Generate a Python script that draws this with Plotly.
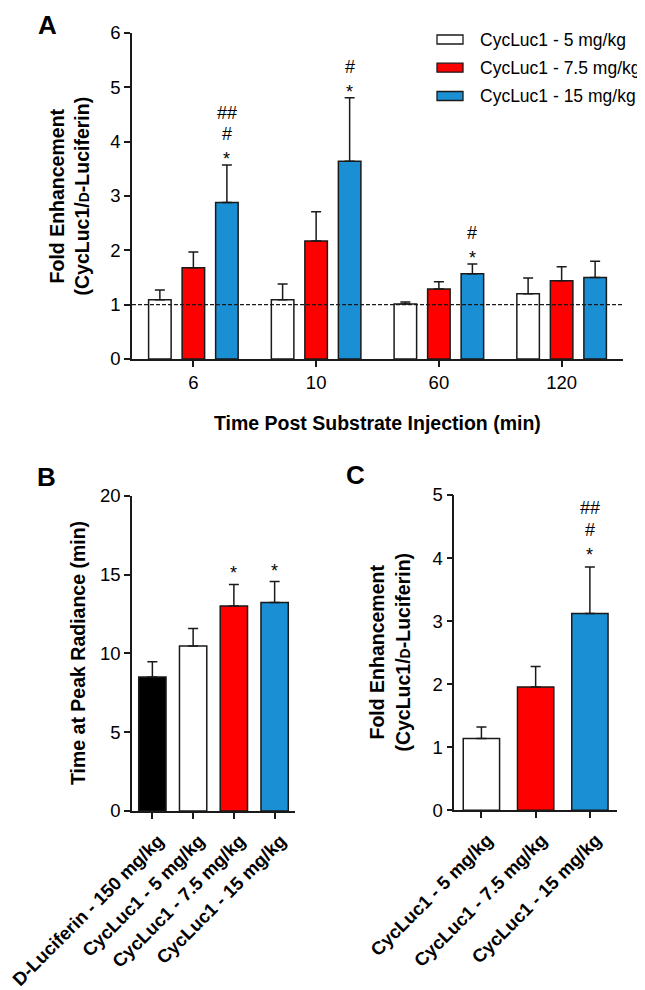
import plotly.graph_objects as go

W, H = 645, 990
OFF = 8  # page body margin offset in the screenshot
FONT = "Arial, Liberation Sans, Helvetica, sans-serif"

# ---------------- data ----------------
# Panel A
times = ["6", "10", "60", "120"]
series_names = ["CycLuc1 - 5 mg/kg", "CycLuc1 - 7.5 mg/kg", "CycLuc1 - 15 mg/kg"]
a_5_mean = [1.09, 1.09, 1.01, 1.20]
a_5_sem = [0.18, 0.29, 0.04, 0.29]
a_75_mean = [1.68, 2.17, 1.29, 1.44]
a_75_sem = [0.29, 0.54, 0.13, 0.26]
a_15_mean = [2.88, 3.64, 1.57, 1.50]
a_15_sem = [0.69, 1.17, 0.18, 0.30]
a_15_sig = [["*", "#", "##"], ["*", "#"], ["*", "#"], []]
a_reference = 1.0

# Panel B
b_groups = ["D-Luciferin - 150 mg/kg", "CycLuc1 - 5 mg/kg",
            "CycLuc1 - 7.5 mg/kg", "CycLuc1 - 15 mg/kg"]
b_mean = [8.5, 10.46, 13.0, 13.23]
b_sem = [0.97, 1.12, 1.37, 1.32]
b_sig = [[], [], ["*"], ["*"]]

# Panel C
c_groups = ["CycLuc1 - 5 mg/kg", "CycLuc1 - 7.5 mg/kg", "CycLuc1 - 15 mg/kg"]
c_mean = [1.14, 1.955, 3.12]
c_sem = [0.18, 0.325, 0.74]
c_sig = [[], [], ["*", "#", "##"]]

# ---------------- styles ----------------
WHITE, RED, BLUE, BLACK = "#FFFFFF", "#FF0000", "#1A8FD3", "#000000"
LINE = "#1a1a1a"
series_colors = [WHITE, RED, BLUE]
b_colors = [BLACK, WHITE, RED, BLUE]
c_colors = [WHITE, RED, BLUE]
BARGAP, BARGROUPGAP = 0.181, 0.328


def px(xp):
    return (xp - OFF) / W


def py(yp):
    return 1 - (yp - OFF) / H


def err(sem):
    return dict(type="data", array=sem, arrayminus=[0] * len(sem), symmetric=False,
                color=LINE, thickness=1.5, width=5)


fig = go.Figure()

# Panel A bars
for name, mean, sem, col in zip(series_names,
                                [a_5_mean, a_75_mean, a_15_mean],
                                [a_5_sem, a_75_sem, a_15_sem],
                                series_colors):
    fig.add_trace(go.Bar(x=times, y=mean, name=name, error_y=err(sem),
                         marker=dict(color=col, line=dict(color=LINE, width=1.5)),
                         xaxis="x", yaxis="y", showlegend=False))

# Panel B bars
fig.add_trace(go.Bar(x=b_groups, y=b_mean, error_y=err(b_sem), width=0.67,
                     marker=dict(color=b_colors, line=dict(color=LINE, width=1.5)),
                     xaxis="x2", yaxis="y2", showlegend=False))

# Panel C bars
fig.add_trace(go.Bar(x=c_groups, y=c_mean, error_y=err(c_sem), width=0.67,
                     marker=dict(color=c_colors, line=dict(color=LINE, width=1.5)),
                     xaxis="x3", yaxis="y3", showlegend=False))

axis_common = dict(showline=True, linecolor=LINE, linewidth=1.5, ticks="outside",
                   ticklen=6, tickwidth=1.5, tickcolor=LINE, showgrid=False,
                   zeroline=False, automargin=False,
                   tickfont=dict(size=18.5, family=FONT, color="black"))
bold_ticks = dict(size=18.5, family=FONT, color="black", weight="bold")
rot_x = dict(tickangle=-45, ticklabelshift=6, ticklabelstandoff=4)

fig.update_layout(
    width=W, height=H, autosize=False,
    margin=dict(l=0, r=0, t=0, b=0, pad=0, autoexpand=False),
    paper_bgcolor="white", plot_bgcolor="white",
    barmode="group", bargap=BARGAP, bargroupgap=BARGROUPGAP,
    font=dict(family=FONT, color="black"), showlegend=False,
    xaxis=dict(domain=[px(132), px(623)], anchor="y", type="category",
               range=[-0.5, 3.5], **axis_common),
    yaxis=dict(domain=[py(359), py(33)], anchor="x", range=[0, 6], dtick=1,
               **axis_common),
    xaxis2=dict(domain=[px(132), px(295)], anchor="y2", type="category",
                range=[-0.5, 3.5], **rot_x,
                **{**axis_common, "tickfont": bold_ticks}),
    yaxis2=dict(domain=[py(811), py(495.7)], anchor="x2", range=[0, 20], dtick=5,
                **axis_common),
    xaxis3=dict(domain=[px(454.3), px(617)], anchor="y3", type="category",
                range=[-0.5, 2.5], **rot_x,
                **{**axis_common, "tickfont": bold_ticks}),
    yaxis3=dict(domain=[py(810.3), py(495)], anchor="x3", range=[0, 5], dtick=1,
                **axis_common),
)

# dashed reference line in panel A
fig.add_shape(type="line", xref="x domain", yref="y", x0=0, x1=1,
              y0=a_reference, y1=a_reference, layer="above",
              line=dict(color=LINE, width=1.3, dash="4px,2px"))

ann = []


def add_sig(xref, yref, xpos, top, marks, offsets):
    for m, off in zip(marks, offsets):
        shift = off - (5 if m == "*" else 0)
        ann.append(dict(xref=xref, yref=yref, x=xpos, y=top, text=m, showarrow=False,
                        xanchor="center", yanchor="middle", yshift=shift,
                        font=dict(size=18, family=FONT, color="black")))


slot = (1 - BARGAP) / 3
for i, marks in enumerate(a_15_sig):
    add_sig("x", "y", i + slot, a_15_mean[i] + a_15_sem[i], marks, [11, 31, 52])
for i, marks in enumerate(b_sig):
    add_sig("x2", "y2", i, b_mean[i] + b_sem[i], marks, [16])
for i, marks in enumerate(c_sig):
    add_sig("x3", "y3", i, c_mean[i] + c_sem[i], marks, [17, 37, 59])

# axis titles
small_d = "<span style='font-size:14px'>D</span>"
fold_title = "<b>Fold Enhancement<br>(CycLuc1/" + small_d + "-Luciferin)</b>"
ann.append(dict(xref="paper", yref="paper", x=px(68.5), y=py(196), text=fold_title,
                textangle=-90, showarrow=False, xanchor="center", yanchor="middle",
                font=dict(size=19.5, family=FONT, color="black")))
ann.append(dict(xref="paper", yref="paper", x=px(390), y=py(652.6), text=fold_title,
                textangle=-90, showarrow=False, xanchor="center", yanchor="middle",
                font=dict(size=19.5, family=FONT, color="black")))
ann.append(dict(xref="paper", yref="paper", x=px(78), y=py(653),
                text="<b>Time at Peak Radiance (min)</b>",
                textangle=-90, showarrow=False, xanchor="center", yanchor="middle",
                font=dict(size=19.5, family=FONT, color="black")))
ann.append(dict(xref="paper", yref="paper", x=px(377.5), y=py(423),
                text="<b>Time Post Substrate Injection (min)</b>",
                showarrow=False, xanchor="center", yanchor="middle",
                font=dict(size=19.5, family=FONT, color="black")))

# panel letters
ann.append(dict(xref="paper", yref="paper", x=px(47.5), y=1, text="<b>A</b>",
                showarrow=False, xanchor="center", yanchor="top",
                font=dict(size=26, family=FONT, color="black")))
for letter, xp, yp in [("B", 46, 477), ("C", 355, 475)]:
    ann.append(dict(xref="paper", yref="paper", x=px(xp), y=py(yp), text="<b>" + letter + "</b>",
                    showarrow=False, xanchor="center", yanchor="middle",
                    font=dict(size=26, family=FONT, color="black")))

# manual legend for panel A
legend_rows = [39.5, 67.7, 96]
for name, col, yc in zip(series_names, series_colors, legend_rows):
    fig.add_shape(type="rect", xref="paper", yref="paper",
                  x0=px(437), x1=px(463), y0=py(yc - 4.5), y1=py(yc + 4.5),
                  fillcolor=col, line=dict(color=LINE, width=1.3))
    ann.append(dict(xref="paper", yref="paper", x=px(478), y=py(yc), text=name,
                    showarrow=False, xanchor="left", yanchor="middle",
                    font=dict(size=17.5, family=FONT, color="black")))

fig.update_layout(annotations=ann)
fig.write_html("out.html")
